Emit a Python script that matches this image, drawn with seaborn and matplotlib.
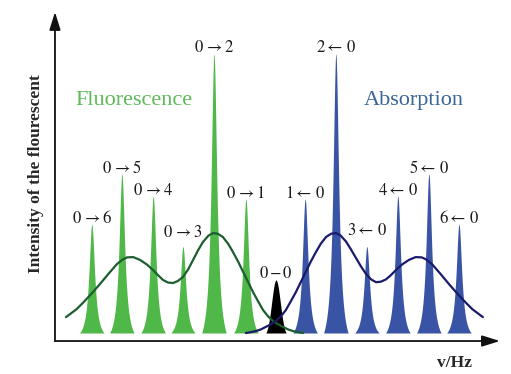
import numpy as np
import pandas as pd
import matplotlib
matplotlib.use("Agg")
import matplotlib.pyplot as plt
import seaborn as sns

# ── Dados ─────────────────────────────────────────────────────────────────────
# posicao em quanta vibracionais (0-0 = 0) e altura relativa (0->2 = 1)
niveis     = [1, 2, 3, 4, 5, 6]
fluor_pos  = [-0.98, -2.02, -3.03, -4.00, -5.02, -6.00]
fluor_alt  = [0.48, 1.00, 0.31, 0.49, 0.57, 0.39]
absor_pos  = [0.95, 1.95, 2.96, 3.97, 4.98, 5.96]
absor_alt  = [0.48, 1.00, 0.31, 0.49, 0.57, 0.39]
zero_pos   = 0.0
zero_alt   = 0.19

# envoltorias (pontos lidos ao longo das curvas)
env_fluor_x = [-6.84, -6.50, -6.29, -6.00, -5.73, -5.45, -5.18, -5.00, -4.85, -4.65,
               -4.43, -4.20, -4.01, -3.84, -3.68, -3.52, -3.36, -3.20, -3.03, -2.86,
               -2.70, -2.54, -2.38, -2.20, -2.05, -1.90, -1.73, -1.56, -1.40, -1.23,
               -1.07, -0.91, -0.75, -0.58, -0.42, -0.26, -0.10, 0.07, 0.23, 0.39,
               0.55, 0.72, 0.88]
env_fluor_h = [0.057, 0.085, 0.108, 0.142, 0.176, 0.213, 0.247, 0.263, 0.271, 0.272,
               0.262, 0.245, 0.226, 0.207, 0.190, 0.181, 0.179, 0.186, 0.201, 0.228,
               0.262, 0.296, 0.326, 0.349, 0.358, 0.356, 0.344, 0.320, 0.290, 0.255,
               0.219, 0.183, 0.147, 0.113, 0.082, 0.060, 0.043, 0.031, 0.022, 0.013,
               0.007, 0.003, 0.0]
env_absor_x = [6.74, 6.40, 6.19, 5.90, 5.63, 5.35, 5.08, 4.90, 4.75, 4.55,
               4.33, 4.10, 3.91, 3.74, 3.58, 3.42, 3.26, 3.10, 2.93, 2.76,
               2.60, 2.44, 2.28, 2.10, 1.95, 1.80, 1.63, 1.46, 1.30, 1.13,
               0.97, 0.81, 0.65, 0.48, 0.32, 0.16, 0.00, -0.17, -0.33, -0.49,
               -0.65, -0.82, -0.98]
env_absor_h = [0.057, 0.085, 0.108, 0.142, 0.176, 0.213, 0.247, 0.263, 0.271, 0.272,
               0.262, 0.245, 0.226, 0.207, 0.192, 0.184, 0.182, 0.192, 0.212, 0.240,
               0.270, 0.300, 0.328, 0.350, 0.358, 0.356, 0.344, 0.320, 0.290, 0.255,
               0.219, 0.183, 0.147, 0.113, 0.082, 0.060, 0.043, 0.031, 0.022, 0.013,
               0.007, 0.003, 0.0]

# ── Cores ─────────────────────────────────────────────────────────────────────
VERDE       = "#4fb848"
AZUL        = "#3a54a5"
VERDE_ESC   = "#1b5e30"
AZUL_ESC    = "#1a1a6b"
TXT_VERDE   = "#5dba58"
TXT_AZUL    = "#3a6596"
SERIF       = ["Liberation Serif", "DejaVu Serif"]


def perfil_pico(x0, h, meia=0.40, g=0.11):
    """Linha estreita (tipo Lorentz) que cai a zero na base."""
    x = np.linspace(x0 - meia, x0 + meia, 241)
    lor = g**2 / ((x - x0)**2 + g**2)
    borda = g**2 / (meia**2 + g**2)
    return x, h * (lor - borda) / (1 - borda)


def perfil_zero(x0, h, meia=0.33, s=0.14):
    x = np.linspace(x0 - meia, x0 + meia, 161)
    gau = np.exp(-(x - x0)**2 / (2 * s**2))
    borda = np.exp(-meia**2 / (2 * s**2))
    return x, h * (gau - borda) / (1 - borda)


sns.set_theme(style="white")
plt.rcParams["font.family"] = SERIF
plt.rcParams["mathtext.fontset"] = "stix"

fig = plt.figure(figsize=(5.11, 3.74), dpi=100)
ax = fig.add_axes([0.1076, 0.0882, 0.8708, 0.8798])
ax.set_xlim(-7.199, 7.296)
ax.set_ylim(-0.0287, 1.1505)
ax.set_xticks([])
ax.set_yticks([])
for lado in ax.spines.values():
    lado.set_visible(False)

# picos
for pos, alt in zip(fluor_pos, fluor_alt):
    x, y = perfil_pico(pos, alt)
    ax.fill_between(x, 0, y, color=VERDE, linewidth=0, zorder=2)
for pos, alt in zip(absor_pos, absor_alt):
    x, y = perfil_pico(pos, alt)
    ax.fill_between(x, 0, y, color=AZUL, linewidth=0, zorder=2)
x, y = perfil_zero(zero_pos, zero_alt)
ax.fill_between(x, 0, y, color="black", linewidth=0, zorder=2)

# envoltorias
env = pd.concat([
    pd.DataFrame({"x": env_fluor_x, "h": env_fluor_h, "banda": "fluor"}),
    pd.DataFrame({"x": env_absor_x, "h": env_absor_h, "banda": "absor"}),
])
sns.lineplot(data=env, x="x", y="h", hue="banda", sort=False, estimator=None,
             palette={"fluor": VERDE_ESC, "absor": AZUL_ESC},
             linewidth=1.6, legend=False, ax=ax, zorder=3)
ax.set_xlabel("")
ax.set_ylabel("")

# rotulos dos picos
rot = dict(textcoords="offset points", ha="center", va="center",
           fontsize=12, color="#1a1a1a", zorder=4)
for n, pos, alt in zip(niveis, fluor_pos, fluor_alt):
    lift = 10 if n == 3 else 4
    ax.annotate(rf"$0\,{{\rightarrow}}{n}$", (pos, alt), xytext=(0, lift), **rot)
for n, pos, alt in zip(niveis, absor_pos, absor_alt):
    lift = 11.5 if n == 3 else 4
    ax.annotate(rf"${n}{{\leftarrow}}\,0$", (pos, alt), xytext=(0, lift), **rot)
ax.annotate(r"$0\,{-}\,0$", (zero_pos, zero_alt), xytext=(0, 4.5), **rot)

ax.text(0.178, 0.73, "Fluorescence", transform=ax.transAxes, ha="center", va="center",
        fontsize=16, color=TXT_VERDE)
ax.text(0.807, 0.73, "Absorption", transform=ax.transAxes, ha="center", va="center",
        fontsize=16, color=TXT_AZUL)

# eixos com setas
seta = dict(arrowstyle="-|>,head_length=0.9,head_width=0.28", lw=1.3, color="#111111",
            shrinkA=0, shrinkB=0)
ax.annotate("", xy=(0, 1.0), xytext=(0, 0), xycoords="axes fraction", arrowprops=seta)
ax.annotate("", xy=(1.0, 0), xytext=(0, 0), xycoords="axes fraction", arrowprops=seta)

ax.text(-0.042, 0.51, "Intensity of the flourescent", transform=ax.transAxes,
        rotation=90, ha="center", va="center", fontsize=12.5, fontweight="bold")
ax.text(0.897, -0.0675, "v/Hz", transform=ax.transAxes, ha="center", va="center",
        fontsize=12.5, fontweight="bold")

fig.savefig("out.png", dpi=100)
